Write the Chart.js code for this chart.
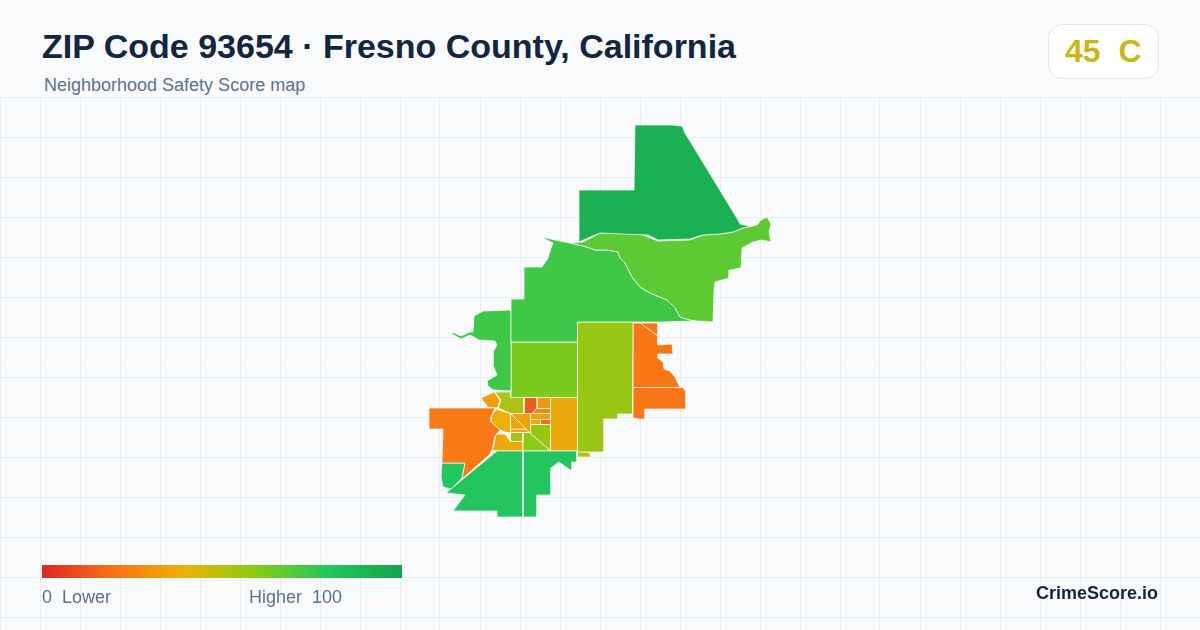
<!DOCTYPE html>
<html>
<head>
<meta charset="utf-8">
<title>ZIP Code 93654 · Fresno County, California</title>
<script src="https://cdn.jsdelivr.net/npm/chart.js@4/dist/chart.umd.min.js"></script>
<style>
  html, body { margin: 0; padding: 0; background: #f8fafc; }
  body { position: relative; width: 1200px; height: 630px; overflow: hidden; font-family: "Liberation Sans", Arial, sans-serif; }
  #map { position: absolute; left: 0; top: 97px; }
  .txt { position: absolute; white-space: pre; line-height: 1; }
  #title { left: 42px; top: 29px; font-size: 34px; font-weight: 700; color: #12263f; }
  #subtitle { left: 44px; top: 76px; font-size: 18px; color: #5b7290; }
  #badge { position: absolute; left: 1048px; top: 24px; width: 109px; height: 53px; background: #fff; border: 1px solid #e2e8f0; border-radius: 14px; }
  #grade { left: 1065px; top: 35px; font-size: 32px; font-weight: 700; color: #cbb814; }
  #ramp { position: absolute; left: 42px; top: 565px; width: 360px; height: 13px; }
  #low { left: 42px; top: 588px; font-size: 18px; color: #5b7290; }
  #high { left: 249px; top: 588px; font-size: 18px; color: #5b7290; }
  #brand { left: 1036px; top: 584px; font-size: 18px; font-weight: 700; color: #12263f; }
</style>
</head>
<body>
<canvas id="map" width="1200" height="533"></canvas>
<div class="txt" id="title">ZIP Code 93654 · Fresno County, California</div>
<div class="txt" id="subtitle">Neighborhood Safety Score map</div>
<div id="badge"></div>
<div class="txt" id="grade">45  C</div>
<div id="ramp"></div>
<div class="txt" id="low">0  Lower</div>
<div class="txt" id="high">Higher  100</div>
<div class="txt" id="brand">CrimeScore.io</div>
<script>
/* --- Data --- */
const gridCols = [0,40,80,120,160,200,240,280,320,360,400,440,480,520,560,600,640,680,720,760,800,840,880,920,960,1000,1040,1080,1120,1160,1200];
const gridRows = [97,137,177,217,257,297,337,377,417,457,497,537,577,617];

const zoneNames = [
  'north', 'foothills', 'river', 'westLobe', 'square', 'eastBelt', 'beltTail',
  'eastOrange', 'eastSliver', 'southOrange', 'westOrange', 'swGreen', 'southA', 'southB',
  'nwAmber', 'olive', 'smallGreen', 'red', 'amberTop', 'amberEast', 'stripeA', 'stripeB',
  'stripeC', 'stripeD', 'blob', 'triUpper', 'triLower', 'band', 'oliveSmall', 'limeLower',
  'oliveRight', 'amberLow', 'strip'
];
const zoneScores = [
  92, 68, 74, 74, 62, 56, 50,
  21, 21, 21, 22, 80, 80, 80,
  34, 52, 76, 14, 31, 37, 27, 34,
  36, 19, 39, 35, 35, 36, 53, 59,
  56, 37, 33
];
const zoneOutlines = [
  [[635,125],[672,125],[682,126],[685,133],[738,220],[740,224],[749,226],[748,227],[743,228],[733,232],[720,234],[703,235],[690,239],[658,240],[648,235],[623,234],[600,233],[588,238],[579,242],[579,190],[634,190]],
  [[570,243],[583,242],[600,233],[623,233],[640,234],[658,241],[690,240],[703,235],[720,234],[733,232],[743,228],[748,227],[757,225],[761,220],[767,217],[771,224],[769,232],[771,242],[762,240],[753,242],[742,248],[741,268],[730,270],[729,278],[715,282],[714,290],[713,322],[697,321],[690,320],[680,317],[675,308],[667,300],[650,293],[640,287],[632,277],[625,263],[620,258],[618,252],[607,250],[595,250],[587,247]],
  [[542,237],[555,240],[565,242],[570,243],[587,247],[595,250],[607,250],[618,252],[620,258],[625,263],[632,277],[640,287],[650,293],[667,300],[675,308],[680,317],[690,320],[697,321],[659,322],[633,322],[577.5,322],[577.5,342],[511,342],[511,299],[524,299],[524,267],[542,267],[548,258],[551,248],[553,243],[547,240]],
  [[511,310],[483,311],[474,316],[473,332],[470,332],[461,336],[452,332],[452,334],[461,339],[470,335],[479,340],[495,341],[497,345],[493,352],[493,365],[497,375],[487,381],[487,385],[493,390],[511,391]],
  [[511,342],[577.5,342],[577.5,397.5],[511,397.5]],
  [[577.5,322],[633,322],[632.5,414],[618,414],[618,419],[604,419],[604,452],[577.5,452]],
  [[577.5,452],[589,452],[591,457],[577.5,457]],
  [[633,323],[640,323],[658,336],[658,345],[672,344],[673,354],[658,354],[658,358],[663,362],[664,369],[670,371],[675,377],[680,387.5],[633,387.5]],
  [[640,323],[658,323],[658,336]],
  [[633,387.5],[683,387.5],[686,392],[686,409],[645,409],[645,419],[639,419],[633,418]],
  [[429,408],[495,408],[491,417],[491,422],[500,430],[495,436],[492,450],[489,455],[462,479],[465,463],[442,463],[443,429],[429,429]],
  [[442,463],[465,463],[462,478],[451,489],[443,487],[441,477]],
  [[446,493],[497,451],[523,451],[523,517],[497,517],[497,511],[453,511],[465,495]],
  [[523,451],[577,451],[577,462],[572,462],[572,471],[559,462],[551,468],[551,495],[537,495],[537,517],[523,517]],
  [[481,398],[494,392],[500,400],[498,407],[496,408],[488,407]],
  [[495,392],[511,392],[511,397.5],[524,397.5],[524,413.5],[510.5,413.5],[498,408],[501,400]],
  [[517,397.5],[524,397.5],[524,408],[514,408],[517,405]],
  [[524,397.5],[537,397.5],[537,408],[532,413.5],[524,413.5]],
  [[537,397.5],[550.5,397.5],[550.5,408.5],[537,408.5]],
  [[550.5,397.5],[577.5,397.5],[577.5,451],[550.5,451]],
  [[537,408.5],[550.5,408.5],[550.5,413.5],[530.5,413.5]],
  [[530.5,413.5],[550.5,413.5],[550.5,419.5],[530.5,419.5]],
  [[530.5,419.5],[540.5,419.5],[540.5,424.5],[530.5,424.5]],
  [[540.5,419.5],[550.5,419.5],[550.5,424.5],[540.5,424.5]],
  [[496,409],[510.5,413.5],[510.5,433],[505,432],[500,430],[491,422],[491,417]],
  [[510.5,413.5],[530.5,413.5],[530.5,433.5]],
  [[510.5,413.5],[510.5,429],[526,429]],
  [[510.5,429],[526,429],[529.5,432.5],[510.5,432.5]],
  [[510.5,432.5],[523,432.5],[523,441.5],[510.5,441.5]],
  [[523,432.5],[529.5,432.5],[550.5,451],[523,451]],
  [[530.5,424.5],[550.5,424.5],[550.5,451],[530.5,433.5]],
  [[496,434],[505,434],[510.5,441.5],[523,441.5],[523,451],[497,451],[492,450],[494,445]],
  [[497,449],[509,447],[509,451],[497,452]]
];
const rampColors = ['#dc2626', '#f97316', '#eab308', '#84cc16', '#22c55e', '#16a34a'];

/* --- Colour ramp: score 0-100 to colour --- */
function hexToRgb(h) {
  return [1, 3, 5].map(i => parseInt(h.slice(i, i + 2), 16));
}

function scoreColor(score) {
  const pos = score / 100 * (rampColors.length - 1);
  const i = Math.min(Math.floor(pos), rampColors.length - 2);
  const f = pos - i;
  const a = hexToRgb(rampColors[i]);
  const b = hexToRgb(rampColors[i + 1]);
  const c = a.map((v, k) => Math.round(v + (b[k] - v) * f));
  return `rgb(${c[0]},${c[1]},${c[2]})`;
}

document.getElementById('ramp').style.background = `linear-gradient(90deg, ${rampColors.join(', ')})`;

/* --- Map --- */
const datasets = zoneOutlines.map((outline, i) => {
  const pts = outline.map(p => ({ x: p[0], y: p[1] }));
  pts.push({ x: outline[0][0], y: outline[0][1] });
  return {
    label: zoneNames[i],
    data: pts,
    showLine: true,
    fill: 'shape',
    tension: 0,
    pointRadius: 0,
    borderWidth: 0.7,
    borderColor: '#ffffff',
    backgroundColor: scoreColor(zoneScores[i])
  };
});

new Chart(document.getElementById('map'), {
  type: 'scatter',
  data: { datasets: datasets },
  options: {
    responsive: false,
    animation: false,
    devicePixelRatio: 1,
    layout: { padding: 0 },
    plugins: { legend: { display: false }, tooltip: { enabled: false } },
    scales: {
      x: {
        type: 'linear',
        min: 0,
        max: 1200,
        afterBuildTicks: axis => { axis.ticks = gridCols.map(v => ({ value: v })); },
        ticks: { display: false },
        border: { display: false },
        grid: { color: '#e5eef2', lineWidth: 1, drawTicks: false }
      },
      y: {
        type: 'linear',
        reverse: true,
        min: 97,
        max: 630,
        afterBuildTicks: axis => { axis.ticks = gridRows.map(v => ({ value: v })); },
        ticks: { display: false },
        border: { display: false },
        grid: { color: '#e5eef2', lineWidth: 1, drawTicks: false }
      }
    }
  }
});
</script>
</body>
</html>
